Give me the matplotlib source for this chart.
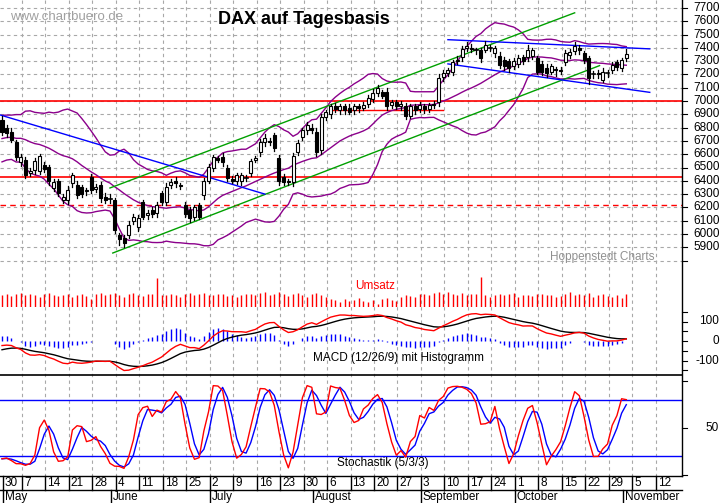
import numpy as np
import pandas as pd
import matplotlib
matplotlib.use("Agg")
import matplotlib.pyplot as plt
from matplotlib.patches import Rectangle
from matplotlib.lines import Line2D

plt.rcParams['font.family'] = ['Liberation Sans', 'DejaVu Sans']

# ---------------- data (trading days from Mon 30 Apr, index 0) ----------------
pre_close = [6990, 7000, 6980, 6840, 6780, 6670, 6610, 6660, 6740, 6580, 6650, 6800, 6810,
             6720, 6750, 6700, 6780, 6730, 6590, 6520, 6720, 6750, 6850, 6820, 6800]

opens = [6860, 6800, 6770, 6690, 6540, 6555, 6460, 6480, 6470, 6520,
         6500, 6345, 6400, 6255, 6255, 6380, 6370, 6350, 6320, 6430,
         6340, 6370, 6275, 6255, 6255, 5990, 5970, 5990, 6100, 6050,
         6240, 6140, 6180, 6160, 6310, 6240, 6370, 6400, 6370, 6220,
         6180, 6130, 6220, 6290, 6400, 6500, 6570, 6580, 6500, 6410,
         6400, 6400, 6420, 6460, 6560, 6620, 6690, 6700, 6745, 6570,
         6430, 6390, 6390, 6620, 6730, 6780, 6800, 6770, 6630, 6880,
         6900, 6960, 6930, 6960, 6950, 6930, 6960, 6950, 6980, 7015,
         7060, 7070, 7070, 6970, 6990, 6960, 6960, 6890, 6960, 6940,
         6960, 6940, 6980, 6990, 7180, 7210, 7220, 7300, 7330, 7400,
         7400, 7380, 7380, 7385, 7400, 7360, 7340, 7310, 7300, 7260,
         7280, 7330, 7330, 7340, 7320, 7280, 7250, 7220, 7240, 7235,
         7290, 7345, 7375, 7400, 7360, 7320, 7200, 7210, 7160, 7210,
         7235, 7290, 7250, 7320]
closes = [6770, 6760, 6710, 6580, 6580, 6440, 6470, 6550, 6590, 6490,
          6400, 6390, 6310, 6280, 6330, 6440, 6290, 6300, 6330, 6330,
          6350, 6270, 6255, 6260, 6030, 5960, 5930, 6070, 6130, 6120,
          6130, 6160, 6150, 6220, 6240, 6350, 6390, 6380, 6360, 6150,
          6120, 6200, 6130, 6400, 6500, 6580, 6560, 6540, 6420, 6400,
          6440, 6440, 6420, 6550, 6570, 6690, 6720, 6690, 6650, 6400,
          6390, 6400, 6590, 6685, 6780, 6820, 6780, 6620, 6880, 6920,
          6960, 6940, 6960, 6930, 6920, 6960, 6950, 6970, 7020, 7060,
          7100, 7040, 6960, 6990, 6960, 6980, 6890, 6960, 6930, 6970,
          6940, 6970, 6970, 7170, 7210, 7230, 7290, 7310, 7390, 7410,
          7390, 7380, 7320, 7420, 7400, 7400, 7270, 7260, 7250, 7300,
          7320, 7300, 7380, 7380, 7220, 7220, 7210, 7260, 7230, 7225,
          7360, 7370, 7410, 7380, 7310, 7170, 7200, 7200, 7220, 7210,
          7270, 7255, 7310, 7350]
wick_up = [30, 20, 25, 15, 20, 25, 30, 20, 15, 25, 20, 25, 15, 20, 30, 15, 25, 20, 15, 20,
           25, 20, 30, 40, 15, 20, 25, 30, 20, 25, 15, 20, 25, 20, 15, 30, 20, 25, 15, 20,
           25, 20, 15, 20, 25, 15, 20, 30, 20, 25, 15, 20, 25, 15, 20, 25, 30, 20, 15, 25,
           20, 15, 20, 25, 15, 20, 30, 25, 20, 15, 20, 25, 15, 20, 25, 20, 15, 20, 25, 30,
           20, 15, 25, 20, 15, 20, 25, 15, 20, 25, 20, 15, 20, 30, 25, 15, 20, 25, 20, 30,
           25, 20, 15, 30, 20, 15, 25, 20, 15, 20, 25, 15, 40, 20, 15, 20, 25, 20, 15, 20,
           25, 20, 30, 20, 15, 20, 25, 20, 30, 20, 25, 20, 15, 40]
wick_dn = [25, 30, 20, 25, 30, 20, 25, 30, 20, 25, 30, 20, 25, 20, 30, 25, 20, 25, 30, 20,
           25, 30, 20, 25, 20, 40, 30, 20, 25, 30, 20, 25, 20, 30, 25, 20, 25, 30, 20, 25,
           30, 25, 20, 30, 20, 25, 20, 30, 25, 20, 25, 30, 20, 25, 20, 30, 25, 20, 25, 30,
           25, 20, 30, 25, 20, 25, 20, 30, 25, 20, 25, 20, 30, 25, 20, 25, 30, 20, 25, 20,
           25, 20, 30, 25, 20, 30, 25, 20, 25, 20, 30, 25, 20, 25, 30, 20, 25, 20, 30, 25,
           20, 25, 30, 20, 25, 30, 20, 25, 30, 20, 25, 20, 30, 25, 20, 25, 30, 20, 40, 25,
           20, 25, 20, 30, 25, 40, 30, 25, 20, 30, 25, 20, 25, 20]
volume = [45, 50, 42, 48, 52, 44, 50, 46, 40, 48, 52, 45, 41, 47, 50, 38, 46, 50, 43, 30,
          48, 52, 44, 50, 55, 47, 40, 49, 52, 45, 42, 48, 50, 110, 44, 46, 51, 45, 40, 48,
          52, 46, 50, 55, 47, 44, 50, 48, 42, 46, 40, 44, 50, 48, 46, 52, 58, 44, 50, 56,
          48, 42, 50, 54, 46, 40, 48, 52, 44, 38, 30, 26, 20, 32, 24, 28, 34, 22, 18, 26,
          10, 30, 36, 28, 24, 40, 46, 42, 38, 50, 48, 44, 52, 58, 50, 56, 48, 44, 52, 46,
          50, 48, 115, 45, 40, 46, 50, 44, 48, 52, 40, 46, 44, 42, 48, 50, 44, 46, 40, 42,
          48, 56, 44, 50, 46, 52, 40, 44, 48, 42, 38, 44, 36, 48]

week_labels = ['30', '7', '14', '21', '28', '4', '11', '18', '25', '2', '9', '16', '23', '30',
               '6', '13', '20', '27', '3', '10', '17', '24', '1', '8', '15', '22', '29', '5', '12']
month_names = ['May', 'June', 'July', 'August', 'September', 'October', 'November']
month_start = [1, 24, 45, 67, 90, 110, 133]

# trend lines: (day index, price)
green_low = [(23.6, 5857), (127.3, 7266)]
green_up = [(23.0, 6346), (122.0, 7663)]
blue_down = [(-0.4, 6895), (56.0, 6300)]
blue_top = [(95.0, 7461), (138.0, 7392)]
blue_bot = [(95.0, 7279), (138.0, 7065)]
red_short = [(70.0, 6930), (94.0, 6930)]
red_levels = [7000, 6430]
red_dashed = 6220

# ---------------- indicators ----------------
n = len(closes)
allc = pd.Series(pre_close + closes, dtype=float)
mid = allc.rolling(20).mean()
sd = allc.rolling(20).std(ddof=0)
up_b = (mid + 2 * sd).values[-n:]
lo_b = (mid - 2 * sd).values[-n:]
mid_b = mid.values[-n:]
ema12 = allc.ewm(span=12, adjust=False).mean()
ema26 = allc.ewm(span=26, adjust=False).mean()
macd = ema12 - ema26
sig = macd.ewm(span=9, adjust=False).mean()
macd_v = macd.values[-n:]
sig_v = sig.values[-n:]
hist_v = (macd_v - sig_v)

O = np.array(opens, float); C = np.array(closes, float)
H = np.maximum(O, C) + np.array(wick_up); L = np.minimum(O, C) - np.array(wick_dn)
hh = pd.Series(H).rolling(5, min_periods=1).max()
ll = pd.Series(L).rolling(5, min_periods=1).min()
k_fast = 100 * (pd.Series(C) - ll) / (hh - ll)
k_slow = k_fast.rolling(3, min_periods=1).mean()
d_slow = k_slow.rolling(3, min_periods=1).mean()

# ---------------- layout ----------------
W, Hh = 723, 503
fig = plt.figure(figsize=(W / 100, Hh / 100), dpi=100)
fig.patch.set_facecolor('white')
XR = 682  # right edge of plot area
PX = 4.694
X0 = 2.0
xlim = (-X0 / PX, (XR - X0) / PX)

def add_ax(top, bot):
    ax = fig.add_axes([0, 1 - bot / Hh, XR / W, (bot - top) / Hh])
    ax.set_xlim(*xlim)
    ax.axis('off')
    ax.patch.set_alpha(0)
    return ax

def fline(x1, y1, x2, y2, **kw):
    fig.add_artist(Line2D([x1 / W, x2 / W], [1 - y1 / Hh, 1 - y2 / Hh], transform=fig.transFigure, **kw))

def ftext(x, y, s, **kw):
    fig.text(x / W, 1 - y / Hh, s, **kw)

gridkw = dict(color='#a8a8a8', lw=0.8, linestyle=(0, (3, 3)))
weeks = [5 * k - 0.75 for k in range(len(week_labels))]

# main price axes
axp = add_ax(0, 307)
p_top = 7000 + 101 / 13.3 * 100
p_bot = 7000 - (307 - 101) / 13.3 * 100
axp.set_ylim(p_bot, p_top)
for p in range(5800, 7900, 100):
    axp.axhline(p, **gridkw, zorder=0)
for wx in weeks[1:]:
    px = X0 + PX * wx
    fline(px, 0, px, 476, **gridkw, zorder=0)

xs = np.arange(n)
for lv in red_levels:
    axp.axhline(lv, color='#ff0000', lw=1.2, zorder=1)
axp.axhline(red_dashed, color='#ff0000', lw=1.0, linestyle=(0, (4, 3)), zorder=1)
axp.plot(*zip(*red_short), color='#ff0000', lw=1.0, zorder=1)
axp.plot(xs, up_b, color='#8b008b', lw=1.0, zorder=2)
axp.plot(xs, mid_b, color='#8b008b', lw=1.0, zorder=2)
axp.plot(xs, lo_b, color='#8b008b', lw=1.0, zorder=2)
for seg, col in [(green_low, '#00a000'), (green_up, '#00a000'), (blue_down, '#0000ff'),
                 (blue_top, '#0000ff'), (blue_bot, '#0000ff')]:
    axp.plot(*zip(*seg), color=col, lw=1.0, zorder=3)
for i in range(n):
    axp.plot([i, i], [L[i], H[i]], color='black', lw=0.9, zorder=4)
    lo, hi = min(O[i], C[i]), max(O[i], C[i])
    if hi - lo < 6:
        axp.plot([i - 0.35, i + 0.35], [C[i], C[i]], color='black', lw=1.2, zorder=5)
    else:
        fc = 'white' if C[i] > O[i] else 'black'
        axp.add_patch(Rectangle((i - 0.32, lo), 0.64, hi - lo, facecolor=fc,
                                edgecolor='black', lw=0.8, zorder=5))

# volume
axv = add_ax(265, 307)
axv.set_ylim(0, 160)
axv.vlines(xs, 0, volume, color='#ff0000', lw=1.0)

# MACD
axm = add_ax(307, 375)
axm.set_ylim(-(375 - 341) / 19.5 * 100, (341 - 307) / 19.5 * 100)
axm.vlines(xs, 0, hist_v * 1.3, color='#0000ff', lw=1.0)
axm.plot(xs, sig_v, color='black', lw=1.0)
axm.plot(xs, macd_v, color='#ff0000', lw=1.0)

# Stochastic
axs = add_ax(375, 476)
axs.set_ylim(-(476 - 475) / 0.94, (475 - 375) / 0.94)
axs.axhline(80, color='#0000ff', lw=1.0)
axs.axhline(20, color='#0000ff', lw=1.0)
axs.plot(xs, d_slow.values, color='#0000ff', lw=1.0)
axs.plot(xs, k_slow.values, color='#ff0000', lw=1.0)

# frame lines
fline(XR, 0, XR, 476, color='black', lw=1.0)
fline(0, 375, XR, 375, color='black', lw=1.2)
fline(0, 476, XR, 476, color='black', lw=1.0)
fline(0, 490, XR, 490, color='black', lw=1.0)

# right axis ticks and labels
for p in range(5800, 7900, 100):
    y = 101 - (p - 7000) * 0.133
    fline(XR, y, XR + 5, y, color='black', lw=0.8)
    if 5900 <= p <= 7700:
        ftext(720, y, str(p), ha='right', va='center', fontsize=8.5)
for v in range(-150, 200, 50):
    y = 341 - v * 0.195
    fline(XR, y, XR + 5, y, color='black', lw=0.8)
    if v in (-100, 0, 100):
        ftext(719, y, str(v), ha='right', va='center', fontsize=8.5)
for v in (0, 50, 100):
    y = 475 - v * 0.94
    fline(XR, y, XR + 5, y, color='black', lw=0.8)
ftext(719, 428, '50', ha='right', va='center', fontsize=8.5)

# date axis
for k, (wx, lab) in enumerate(zip(weeks, week_labels)):
    px = max(X0 + PX * wx, 3)
    fline(px, 476, px, 490, color='black', lw=1.0)
    ftext(px + 2, 483.5, lab, ha='left', va='center', fontsize=8.5)
for ms, name in zip(month_start, month_names):
    px = max(X0 + PX * (ms - 0.75), 3)
    fline(px, 490, px, 503, color='black', lw=1.0)
    ftext(px + 2, 497, name, ha='left', va='center', fontsize=8.5)

# texts
ftext(10, 17, 'www.chartbuero.de', color='#a0a0a0', fontsize=9.5, va='center')
ftext(218, 20, 'DAX auf Tagesbasis', fontsize=13, fontweight='bold', va='center')
ftext(550, 257, 'Hoppenstedt Charts', color='#909090', fontsize=8.5, va='center')
ftext(375, 286, 'Umsatz', color='#ff0000', fontsize=8.5, va='center', ha='center')
ftext(398, 358, 'MACD (12/26/9) mit Histogramm', fontsize=8.5, va='center', ha='center')
ftext(383, 463, 'Stochastik (5/3/3)', fontsize=8.5, va='center', ha='center')

fig.savefig('out.png', dpi=100)
